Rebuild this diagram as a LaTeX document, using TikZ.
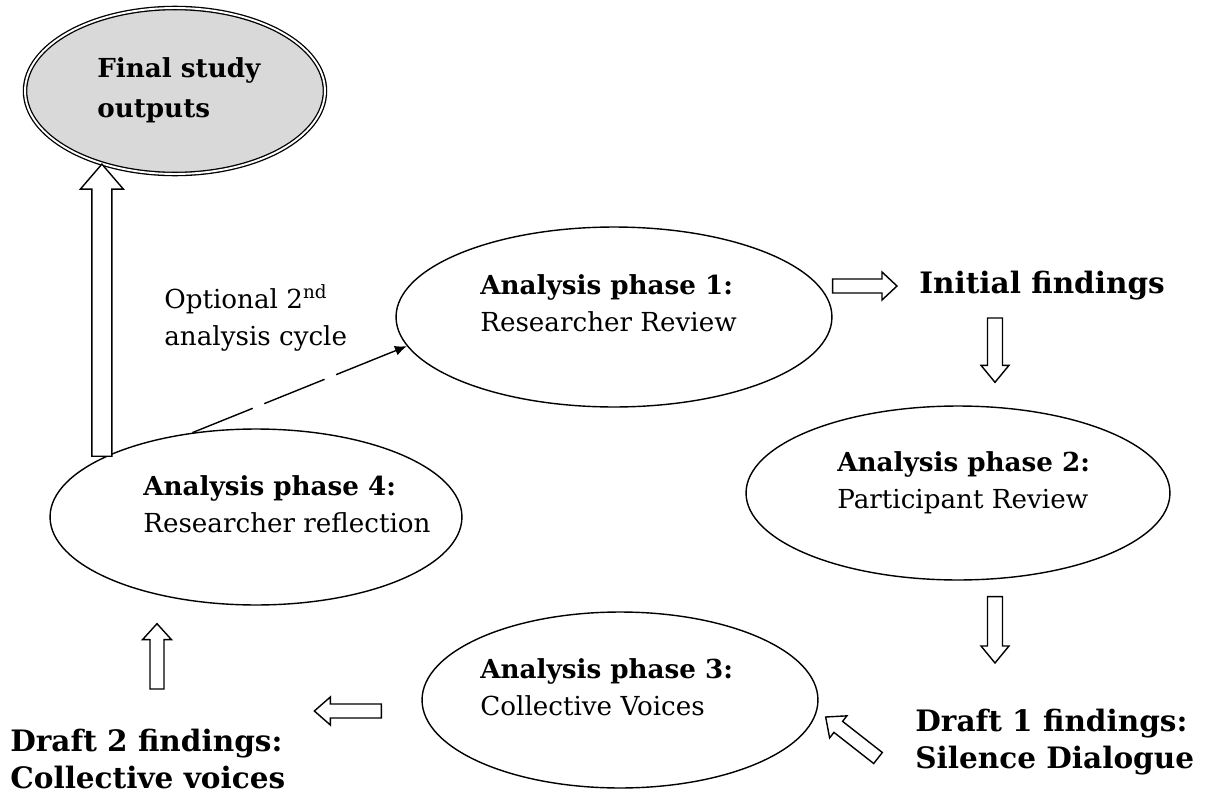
\documentclass[tikz,border=0pt]{standalone}
\usepackage{fontspec}
\setmainfont{DejaVu Serif}
\usetikzlibrary{shapes.geometric,arrows.meta,calc}

\tikzset{
  phase/.style={draw,ellipse,line width=0.8pt,inner sep=0pt},
  txt/.style={anchor=base west,inner sep=0pt,align=left,font=\fontsize{14.9}{20.5}\selectfont},
  bigtxt/.style={txt,font=\fontsize{16.8}{20.5}\selectfont\bfseries},
  blockarr/.style={draw,line width=0.8pt,fill=white,line join=miter},
  cyclearr/.style={line width=0.8pt,dash pattern=on 1.3cm off 0.25cm,-{Latex[length=0.24cm,width=0.2cm]}}
}
% block arrow: tail, tip, half shaft, half head, head length (in px)
\newcommand{\blockarrow}[5]{%
  \coordinate (hb) at ($#2!#5*0.02cm!#1$);
  \draw[blockarr] ($#1!#3*0.02cm!90:#2$) -- ($(hb)!#3*0.02cm!-90:#1$)
    -- ($(hb)!#4*0.02cm!-90:#1$) -- #2 -- ($(hb)!#4*0.02cm!90:#1$)
    -- ($(hb)!#3*0.02cm!90:#1$) -- ($#1!#3*0.02cm!-90:#2$) -- cycle;
}

\begin{document}
\begin{tikzpicture}[x=0.02cm,y=-0.02cm]
  \useasboundingbox (0,0) rectangle (1215,798);

  % the four phases
  \node[phase,minimum width=8.72cm,minimum height=3.6cm] (p1) at (614,317) {};
  \node[phase,minimum width=8.48cm,minimum height=3.48cm] (p2) at (958,493) {};
  \node[phase,minimum width=7.92cm,minimum height=3.52cm] (p3) at (620,700) {};
  \node[phase,minimum width=8.24cm,minimum height=3.52cm] (p4) at (256,517) {};
  \node[phase,minimum width=6cm,minimum height=3.32cm,fill=black!15,
        line width=0.75pt,double=white,double distance=1.1pt] (final) at (175,91) {};

  % base west = baseline of the last line
  \node[txt] (t1) at (480,331) {\textbf{Analysis phase 1:}\\Researcher Review};
  \node[txt] (t2) at (837,508) {\textbf{Analysis phase 2:}\\Participant Review};
  \node[txt] (t3) at (480,715) {\textbf{Analysis phase 3:}\\Collective Voices};
  \node[txt] (t4) at (143,532) {\textbf{Analysis phase 4:}\\Researcher reflection};
  \node[txt,font=\fontsize{14.9}{22.2}\selectfont\bfseries] (tf) at (97,117) {Final study\\outputs};
  \node[txt,font=\fontsize{14.9}{21}\selectfont] (opt) at (164,345) {Optional 2\textsuperscript{nd}\\analysis cycle};

  \node[bigtxt] (init) at (919,293) {Initial findings};
  \node[bigtxt] (draft1) at (915,768) {Draft 1 findings:\\Silence Dialogue};
  \node[bigtxt] (draft2) at (10,788) {Draft 2 findings:\\Collective voices};

  % arrow ends
  \coordinate (a1s) at (final.225 |- p4.158);
  \coordinate (a1e) at (final.225);
  \coordinate (a2e) at ($(init.base west)+(-22,-7)$);
  \coordinate (a2s) at (p1.east |- a2e);
  \coordinate (a3s) at ($(init.base west)+(76,25)$);
  \coordinate (a3e) at ($(p2.north)+(37,-23)$);
  \coordinate (a4s) at ($(p2.south)+(37,16)$);
  \coordinate (a4e) at ($(draft1.base west)+(80,-105)$);
  \coordinate (a5s) at ($(draft1.base west)+(-37,-10)$);
  \coordinate (a5e) at ($(p3.east)+(7,17)$);
  \coordinate (a6s) at ($(p3.west)+(-40,11)$);
  \coordinate (a6e) at ($(a6s)+(-67,0)$);
  \coordinate (a7s) at ($(draft2.base west)+(147,-99)$);
  \coordinate (a7e) at ($(p4.south)+(-99,18)$);

  \blockarrow{(a1s)}{(a1e)}{10}{21.5}{25}
  \blockarrow{(a2s)}{(a2e)}{7}{14}{15}
  \blockarrow{(a3s)}{(a3e)}{7.5}{14}{17}
  \blockarrow{(a4s)}{(a4e)}{7.5}{14}{17}
  \blockarrow{(a5s)}{(a5e)}{7}{14}{16}
  \blockarrow{(a6s)}{(a6e)}{7}{14}{16}
  \blockarrow{(a7s)}{(a7e)}{7}{14.5}{16}

  \draw[cyclearr] (p4.127) -- (p1.188);
\end{tikzpicture}
\end{document}
